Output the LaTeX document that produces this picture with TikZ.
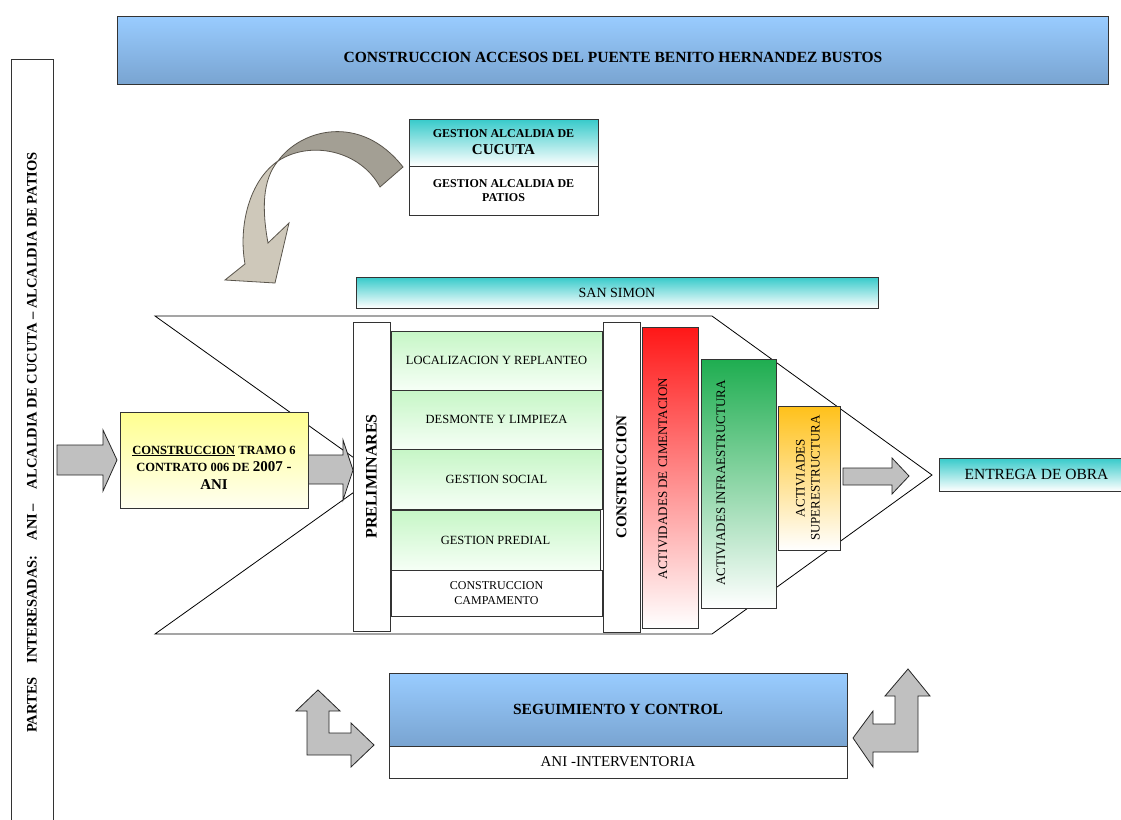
\documentclass[tikz,border=0pt]{standalone}
\usepackage{fontspec}
\usepackage{graphicx}
\setmainfont{Liberation Serif}
\definecolor{cieloazul}{HTML}{99CCFF}
\definecolor{azulosc}{HTML}{79A4D1}
\definecolor{turquesa}{HTML}{36CACA}
\definecolor{verdeclaro}{HTML}{C6F6C6}
\definecolor{verdeblanco}{HTML}{F6FFF6}
\definecolor{rojo}{HTML}{FF1717}
\definecolor{verde}{HTML}{1EAD50}
\definecolor{naranja}{HTML}{FFC11A}
\definecolor{amarillo}{HTML}{FFFF90}
\definecolor{amarilloclaro}{HTML}{FFFFF0}
\definecolor{gris}{HTML}{C0C0C0}
\definecolor{cafeosc}{HTML}{A39F94}
\definecolor{cafeclaro}{HTML}{CEC8BA}
\definecolor{bordecafe}{HTML}{5A554C}
\begin{document}
\begin{tikzpicture}[x=1pt, y=-1pt,
  caja/.style={draw=black!80, line width=1pt, inner sep=0pt, align=center},
  flecha/.style={draw=black!85, line width=0.8pt, fill=gris, line join=miter},
  cinta/.style={draw=bordecafe, line width=0.8pt}]
\useasboundingbox[fill=white] (0,0) rectangle (1121,819);
\draw[line width=0.8pt, fill=white] (155,316) -- (712,316) -- (932,475) -- (712,634) -- (155,634) -- (378,475) -- cycle;
\draw[cinta, fill=cafeosc] (278,161) .. controls (300,130) and (360,112) .. (403,167) -- (380,187) .. controls (360,150) and (310,140) .. (278,161) -- cycle;
\draw[cinta, fill=cafeclaro] (278,161) .. controls (250,180) and (238,225) .. (245,264) -- (225,280) -- (275,283) -- (289,223) -- (268,243) .. controls (262,210) and (262,180) .. (278,161) -- cycle;
\draw[flecha] (57,445) -- (103,445) -- (103,430) -- (117,460) -- (103,491) -- (103,475) -- (57,475) -- cycle;
\draw[flecha] (308,455) -- (343,455) -- (343,440) -- (353,470) -- (343,500) -- (343,484) -- (308,484) -- cycle;
\draw[flecha] (843,468) -- (892,468) -- (892,458) -- (909,476) -- (892,494) -- (892,485) -- (843,485) -- cycle;
\draw[flecha] (318,690) -- (340,711) -- (329,711) -- (329,733) -- (351,733) -- (351,723) -- (374,745) -- (351,767) -- (351,755) -- (307,755) -- (307,711) -- (296,711) -- cycle;
\draw[flecha] (908,669) -- (930,696) -- (918,696) -- (918,752) -- (873,752) -- (873,767) -- (853,738) -- (873,711) -- (873,724) -- (895,724) -- (895,696) -- (885,696) -- cycle;
\node[caja, top color=cieloazul, bottom color=azulosc, minimum width=991, minimum height=68] (titulo) at (612.5,50) {};
\node[font=\fontsize{15.5}{18}\selectfont\bfseries] (titulo-t) at (613,57) {CONSTRUCCION ACCESOS DEL PUENTE BENITO HERNANDEZ BUSTOS};
\node[caja, fill=white, minimum width=42, minimum height=767, font=\fontsize{14.5}{16}\selectfont\bfseries] (partes) at (32,442.5) {\rotatebox{90}{PARTES\hspace{14pt}INTERESADAS:\hspace{15pt}ANI\,--\hspace{15pt}ALCALDIA DE CUCUTA -- ALCALDIA DE PATIOS}};
\node[caja, top color=turquesa, bottom color=white, minimum width=189, minimum height=47, font=\fontsize{12}{17}\selectfont\bfseries] (cucuta) at (503.5,142.5) {GESTION ALCALDIA DE\\{\fontsize{15}{17}\selectfont CUCUTA}};
\node[caja, fill=white, minimum width=189, minimum height=49, font=\fontsize{12}{14}\selectfont\bfseries] (patios) at (503.5,190.5) {GESTION ALCALDIA DE\\PATIOS};
\node[caja, top color=turquesa, bottom color=white, minimum width=522, minimum height=31, font=\fontsize{14}{16}\selectfont] (sansimon) at (617,292.5) {SAN SIMON};
\node[caja, top color=amarillo, bottom color=amarilloclaro, minimum width=188, minimum height=96] (tramo) at (214,460) {};
\node[font=\fontsize{12.5}{17.5}\selectfont\bfseries, align=center] (tramo-t) at (214,467.5) {\underline{CONSTRUCCION} TRAMO 6\\CONTRATO 006 DE {\fontsize{15}{17.5}\selectfont 2007 -}\\{\fontsize{15}{17.5}\selectfont ANI}};
\node[caja, fill=white, minimum width=37, minimum height=309, font=\fontsize{16}{18}\selectfont\bfseries] (prelim) at (371.5,476.5) {\rotatebox{90}{PRELIMINARES}};
\node[caja, top color=verdeclaro, bottom color=verdeblanco, minimum width=211, minimum height=59, font=\fontsize{12.5}{15}\selectfont] (loc) at (496.5,360.5) {LOCALIZACION Y REPLANTEO};
\node[caja, top color=verdeclaro, bottom color=verdeblanco, minimum width=211, minimum height=59, font=\fontsize{12.5}{15}\selectfont] (desm) at (496.5,419.5) {DESMONTE Y LIMPIEZA};
\node[caja, top color=verdeclaro, bottom color=verdeblanco, minimum width=211, minimum height=60, font=\fontsize{12.5}{15}\selectfont] (gsoc) at (496.5,479) {GESTION SOCIAL};
\node[caja, top color=verdeclaro, bottom color=verdeblanco, minimum width=209, minimum height=60, font=\fontsize{12.5}{15}\selectfont] (gpred) at (495.5,540) {GESTION PREDIAL};
\node[caja, fill=white, minimum width=211, minimum height=46, font=\fontsize{12}{15}\selectfont] (camp) at (496.5,593) {CONSTRUCCION\\CAMPAMENTO};
\node[caja, fill=white, minimum width=37, minimum height=310, font=\fontsize{15}{18}\selectfont\bfseries] (constr) at (621.5,477) {\rotatebox{90}{CONSTRUCCION}};
\node[caja, top color=rojo, bottom color=white, minimum width=56, minimum height=301] (ciment) at (670,477.5) {};
\node[font=\fontsize{13}{15}\selectfont] (ciment-t) at (663,478.5) {\rotatebox{90}{ACTIVIDADES DE CIMENTACION}};
\node[caja, top color=verde, bottom color=white, minimum width=75, minimum height=249] (infra) at (738.5,483.5) {};
\node[font=\fontsize{13}{15}\selectfont] (infra-t) at (721,483) {\rotatebox{90}{ACTIVIADES INFRAESTRUCTURA}};
\node[caja, top color=naranja, bottom color=white, minimum width=62, minimum height=144, font=\fontsize{13}{15}\selectfont] (super) at (809,478) {\rotatebox{90}{\begin{tabular}{@{}c@{}}ACTIVIADES\\SUPERESTRUCTURA\end{tabular}}};
\node[caja, top color=turquesa, bottom color=white, minimum width=195, minimum height=33, font=\fontsize{15.5}{18}\selectfont] (entrega) at (1036.5,474.5) {ENTREGA DE OBRA};
\node[caja, top color=cieloazul, bottom color=azulosc, minimum width=458, minimum height=73, font=\fontsize{15.5}{18}\selectfont\bfseries] (seguim) at (618,709.5) {SEGUIMIENTO Y CONTROL};
\node[caja, fill=white, minimum width=458, minimum height=32, font=\fontsize{15}{18}\selectfont] (interv) at (618,762) {ANI -INTERVENTORIA};
\end{tikzpicture}
\end{document}
